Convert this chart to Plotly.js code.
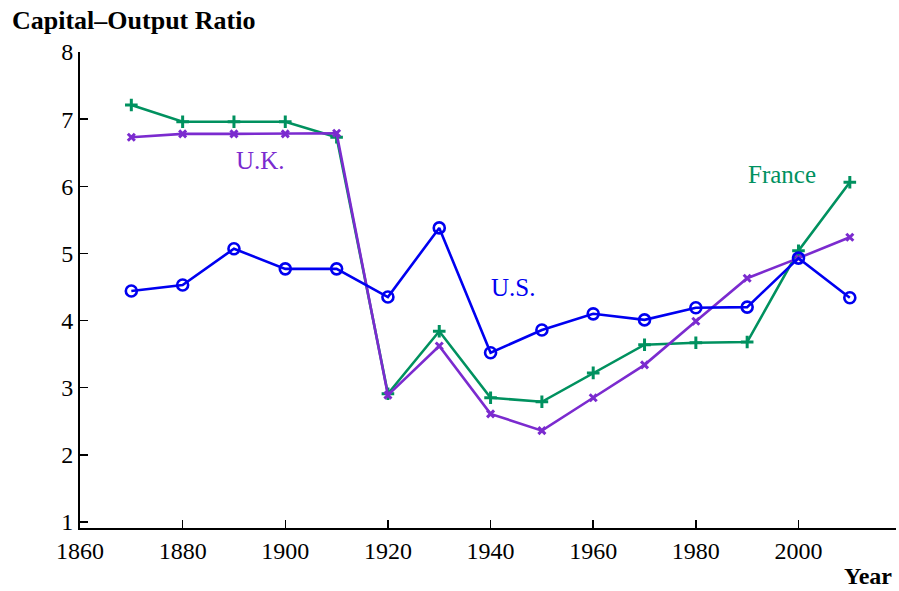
<!DOCTYPE html>
<html>
<head>
<meta charset="utf-8">
<script src="https://cdn.plot.ly/plotly-3.0.1.min.js"></script>
<style>html,body{margin:0;padding:0;background:#fff;}#chart{width:899px;height:591px;}</style>
</head>
<body>
<div id="chart"></div>
<script>
const years = [1870,1880,1890,1900,1910,1920,1930,1940,1950,1960,1970,1980,1990,2000,2010];
const us     = [4.44,4.53,5.07,4.77,4.77,4.35,5.38,3.52,3.86,4.10,4.01,4.19,4.20,4.93,4.34];
const france = [7.21,6.96,6.96,6.96,6.73,2.91,3.84,2.85,2.79,3.22,3.64,3.67,3.68,5.04,6.06];
const uk     = [6.73,6.78,6.78,6.78,6.79,2.89,3.62,2.61,2.36,2.85,3.34,3.99,4.63,4.93,5.24];
const xTicks = [1860,1880,1900,1920,1940,1960,1980,2000];
const yTicks = [1,2,3,4,5,6,7,8];

const cBlue = '#0000f0', cGreen = '#00915f', cPurple = '#7b2bcf';
const serif = '"Liberation Serif", "Times New Roman", serif';

const traces = [
  {x: years, y: france, mode: 'lines+markers', name: 'France',
   line: {color: cGreen, width: 2.6},
   marker: {symbol: 'cross-thin-open', size: 9, line: {color: cGreen, width: 3}}},
  {x: years, y: uk, mode: 'lines+markers', name: 'U.K.',
   line: {color: cPurple, width: 2.6},
   marker: {symbol: 'x-thin-open', size: 7, line: {color: cPurple, width: 3}}},
  {x: years, y: us, mode: 'lines+markers', name: 'U.S.',
   line: {color: cBlue, width: 2.6},
   marker: {symbol: 'circle-open', size: 11, color: cBlue, line: {color: cBlue, width: 2.6}}}
];

const layout = {
  width: 899, height: 591,
  margin: {l: 80, r: 3, t: 52, b: 63},
  paper_bgcolor: '#fff', plot_bgcolor: '#fff',
  showlegend: false,
  font: {family: serif, size: 24, color: '#000'},
  title: {text: '<b>Capital\u2013Output Ratio</b>', font: {family: serif, size: 26, color: '#000'},
          x: 12/899, xanchor: 'left', xref: 'container', y: 1 - 20/591, yanchor: 'middle', yref: 'container'},
  xaxis: {range: [1860, 2019], tickvals: xTicks, ticktext: xTicks.map(String),
          ticks: 'inside', ticklen: 8, tickwidth: 1.5, tickcolor: '#000',
          showline: true, linecolor: '#000', linewidth: 2, showgrid: false, zeroline: false,
          tickfont: {family: serif, size: 24, color: '#000'}},
  yaxis: {range: [0.91, 8], tickvals: yTicks, ticktext: yTicks.map(String),
          ticks: 'inside', ticklen: 8, tickwidth: 1.5, tickcolor: '#000',
          showline: true, linecolor: '#000', linewidth: 2, showgrid: false, zeroline: false,
          tickfont: {family: serif, size: 24, color: '#000'}},
  annotations: [
    {x: 1895.1, y: 6.39, xref: 'x', yref: 'y', text: 'U.K.', showarrow: false,
     font: {family: serif, size: 25, color: cPurple}},
    {x: 1944.4, y: 4.49, xref: 'x', yref: 'y', text: 'U.S.', showarrow: false,
     font: {family: serif, size: 25, color: cBlue}},
    {x: 1996.8, y: 6.18, xref: 'x', yref: 'y', text: 'France', showarrow: false,
     font: {family: serif, size: 25, color: cGreen}},
    {x: 1, y: -62/476, xref: 'paper', yref: 'paper', xanchor: 'right', yanchor: 'bottom', xshift: -3,
     text: '<b>Year</b>', showarrow: false, borderpad: 0, font: {family: serif, size: 24, color: '#000'}}
  ]
};

Plotly.newPlot('chart', traces, layout, {displayModeBar: false, staticPlot: true});
</script>
</body>
</html>
